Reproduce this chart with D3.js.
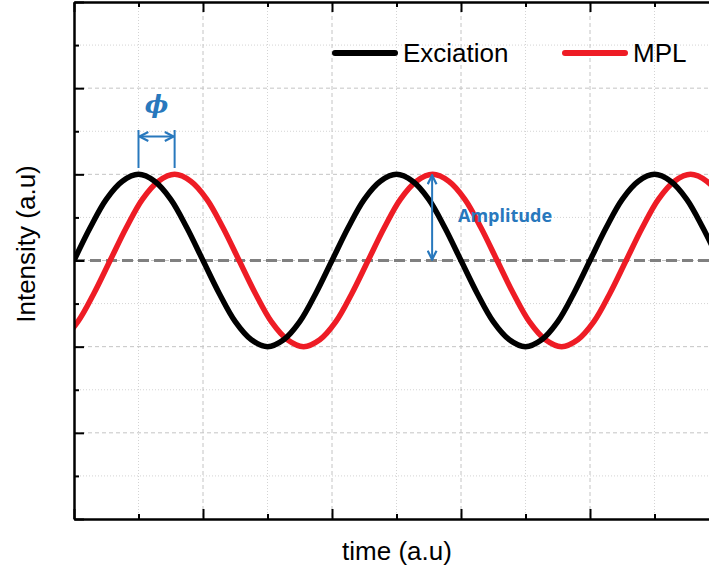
<!DOCTYPE html>
<html><head><meta charset="utf-8">
<script src="https://cdn.jsdelivr.net/npm/d3@7"></script>
<style>html,body{margin:0;padding:0;background:#fff;} svg{display:block;}</style>
</head><body>
<svg id="c" width="709" height="572"></svg>
<script>
// ---- data ----
const timeExc = [0,0.125,0.25,0.375,0.5,0.625,0.75,0.875,1,1.125,1.25,1.375,1.5,1.625,1.75,1.875,2,2.125,2.25,2.375,2.5,2.625,2.75,2.875,3,3.125,3.25,3.375,3.5,3.625,3.75,3.875,4,4.125,4.25,4.375,4.5,4.625,4.75,4.875,5];
const excitation = [0,0.38,0.71,0.92,1,0.92,0.71,0.38,0,-0.38,-0.71,-0.92,-1,-0.92,-0.71,-0.38,0,0.38,0.71,0.92,1,0.92,0.71,0.38,0,-0.38,-0.71,-0.92,-1,-0.92,-0.71,-0.38,0,0.38,0.71,0.92,1,0.92,0.71,0.38,0];
const timeMPL = [-0.22,-0.095,0.03,0.155,0.28,0.405,0.53,0.655,0.78,0.905,1.03,1.155,1.28,1.405,1.53,1.655,1.78,1.905,2.03,2.155,2.28,2.405,2.53,2.655,2.78,2.905,3.03,3.155,3.28,3.405,3.53,3.655,3.78,3.905,4.03,4.155,4.28,4.405,4.53,4.655,4.78,4.905,5.03];
const mpl = [-1,-0.92,-0.71,-0.38,0,0.38,0.71,0.92,1,0.92,0.71,0.38,0,-0.38,-0.71,-0.92,-1,-0.92,-0.71,-0.38,0,0.38,0.71,0.92,1,0.92,0.71,0.38,0,-0.38,-0.71,-0.92,-1,-0.92,-0.71,-0.38,0,0.38,0.71,0.92,1,0.92,0.71];
const xMajor = [0,1,2,3,4,5];
const xMinor = [0.5,1.5,2.5,3.5,4.5];
const yMajor = [-3,-2,-1,0,1,2,3];
const yMinor = [-2.5,-1.5,-0.5,0.5,1.5,2.5];
const seriesNames = ["Exciation","MPL"];
const baseline = 0;
const phaseStart = 0.5, phaseEnd = 0.78;   // peaks of the two curves
const ampTime = 2.78, ampTop = 1;

// ---- layout ----
const L = 74, R = 719, T = 2, B = 519;
const svg = d3.select("#c");
const x = d3.scaleLinear().domain([0,5]).range([L,R]);
const y = d3.scaleLinear().domain([-3,3]).range([B,T]);
const blue = "#2878bd";

svg.append("clipPath").attr("id","clip").append("rect")
  .attr("x",L).attr("y",T).attr("width",R-L).attr("height",B-T);

// grid
const g = svg.append("g");
g.selectAll(".gxm").data(xMinor).join("line")
  .attr("x1",d=>x(d)).attr("x2",d=>x(d)).attr("y1",T).attr("y2",B)
  .attr("stroke","#d4d4d4").attr("stroke-width",1).attr("stroke-dasharray","1,2");
g.selectAll(".gym").data(yMinor).join("line")
  .attr("y1",d=>y(d)).attr("y2",d=>y(d)).attr("x1",L).attr("x2",R)
  .attr("stroke","#d4d4d4").attr("stroke-width",1).attr("stroke-dasharray","1,2");
g.selectAll(".gxM").data(xMajor.slice(1)).join("line")
  .attr("x1",d=>x(d)).attr("x2",d=>x(d)).attr("y1",T).attr("y2",B)
  .attr("stroke","#c4c4c4").attr("stroke-width",1).attr("stroke-dasharray","4,3");
g.selectAll(".gyM").data(yMajor.slice(1,-1)).join("line")
  .attr("y1",d=>y(d)).attr("y2",d=>y(d)).attr("x1",L).attr("x2",R)
  .attr("stroke","#c4c4c4").attr("stroke-width",1).attr("stroke-dasharray","4,3");

// baseline dashed
svg.append("line").attr("x1",L).attr("x2",R).attr("y1",y(baseline)).attr("y2",y(baseline))
  .attr("stroke","#808080").attr("stroke-width",3).attr("stroke-dasharray","11,5");

// curves
const line = d3.line().x(d=>x(d[0])).y(d=>y(d[1])).curve(d3.curveCatmullRom.alpha(0.5));
const cg = svg.append("g").attr("clip-path","url(#clip)");
cg.append("path").datum(timeMPL.map((t,i)=>[t,mpl[i]])).attr("d",line)
  .attr("fill","none").attr("stroke","#ee1c25").attr("stroke-width",5.5);
cg.append("path").datum(timeExc.map((t,i)=>[t,excitation[i]])).attr("d",line)
  .attr("fill","none").attr("stroke","#000").attr("stroke-width",5.5);

// axes (inward ticks)
function axisG(axis, tr){ const a = svg.append("g").attr("transform",tr).call(axis);
  a.selectAll("text").remove(); a.selectAll(".tick line").attr("stroke","#000").attr("stroke-width",2);
  return a; }
const bx = axisG(d3.axisBottom(x).tickValues(xMajor).tickSizeInner(-10).tickSizeOuter(0), `translate(0,${B})`);
bx.select(".domain").attr("stroke","#000").attr("stroke-width",2.5);
axisG(d3.axisBottom(x).tickValues(xMinor).tickSizeInner(-5).tickSizeOuter(0), `translate(0,${B})`).select(".domain").remove();
const tx = axisG(d3.axisTop(x).tickValues(xMajor).tickSizeInner(-10).tickSizeOuter(0), `translate(0,${T})`);
tx.select(".domain").attr("stroke","#000").attr("stroke-width",2.5);
axisG(d3.axisTop(x).tickValues(xMinor).tickSizeInner(-5).tickSizeOuter(0), `translate(0,${T})`).select(".domain").remove();
const ly = axisG(d3.axisLeft(y).tickValues(yMajor).tickSizeInner(-10).tickSizeOuter(0), `translate(${L},0)`);
ly.select(".domain").attr("stroke","#000").attr("stroke-width",2.5);
axisG(d3.axisLeft(y).tickValues(yMinor).tickSizeInner(-5).tickSizeOuter(0), `translate(${L},0)`).select(".domain").remove();

// axis labels
svg.append("text").attr("x",397).attr("y",560).attr("text-anchor","middle")
  .attr("font-family","Liberation Sans, Arial, sans-serif").attr("font-size",26).text("time (a.u)");
svg.append("text").attr("transform","translate(35,244) rotate(-90)").attr("text-anchor","middle")
  .attr("font-family","Liberation Sans, Arial, sans-serif").attr("font-size",26).text("Intensity (a.u)");

// legend
const legColors = ["#000","#ee1c25"];
const legX = [333,563];
seriesNames.forEach((n,i)=>{
  svg.append("line").attr("x1",legX[i]+2).attr("x2",legX[i]+62).attr("y1",53).attr("y2",53)
    .attr("stroke",legColors[i]).attr("stroke-width",6).attr("stroke-linecap","round");
  svg.append("text").attr("x",legX[i]+70).attr("y",62)
    .attr("font-family","Liberation Sans, Arial, sans-serif").attr("font-size",26).text(n);
});

// arrow markers
const defs = svg.append("defs");
defs.append("marker").attr("id","ah").attr("viewBox","0 0 10 10").attr("refX",9).attr("refY",5)
  .attr("markerWidth",11).attr("markerHeight",11).attr("markerUnits","userSpaceOnUse")
  .attr("orient","auto-start-reverse")
  .append("path").attr("d","M1,1 L9,5 L1,9").attr("fill","none").attr("stroke",blue).attr("stroke-width",2);

// phase annotation
[phaseStart, phaseEnd].forEach(t=>{
  svg.append("line").attr("x1",x(t)).attr("x2",x(t)).attr("y1",130).attr("y2",168)
    .attr("stroke",blue).attr("stroke-width",2);
});
svg.append("line").attr("x1",x(phaseStart)+1).attr("x2",x(phaseEnd)-1).attr("y1",136.5).attr("y2",136.5)
  .attr("stroke",blue).attr("stroke-width",2)
  .attr("marker-start","url(#ah)").attr("marker-end","url(#ah)");
svg.append("text").attr("x",(x(phaseStart)+x(phaseEnd))/2).attr("y",113).attr("text-anchor","middle")
  .attr("font-family","DejaVu Serif, serif").attr("font-style","italic").attr("font-weight","bold")
  .attr("font-size",25).attr("fill",blue).text("\u03D5");

// amplitude annotation
svg.append("line").attr("x1",x(ampTime)-0.5).attr("x2",x(ampTime)-0.5).attr("y1",y(ampTop)+1).attr("y2",y(baseline)-1)
  .attr("stroke",blue).attr("stroke-width",2)
  .attr("marker-start","url(#ah)").attr("marker-end","url(#ah)");
svg.append("text").attr("x",458).attr("y",222)
  .attr("font-family","Open Sans, sans-serif").attr("font-weight","bold")
  .attr("font-size",18).attr("fill",blue).text("Amplitude");
</script>
</body></html>
